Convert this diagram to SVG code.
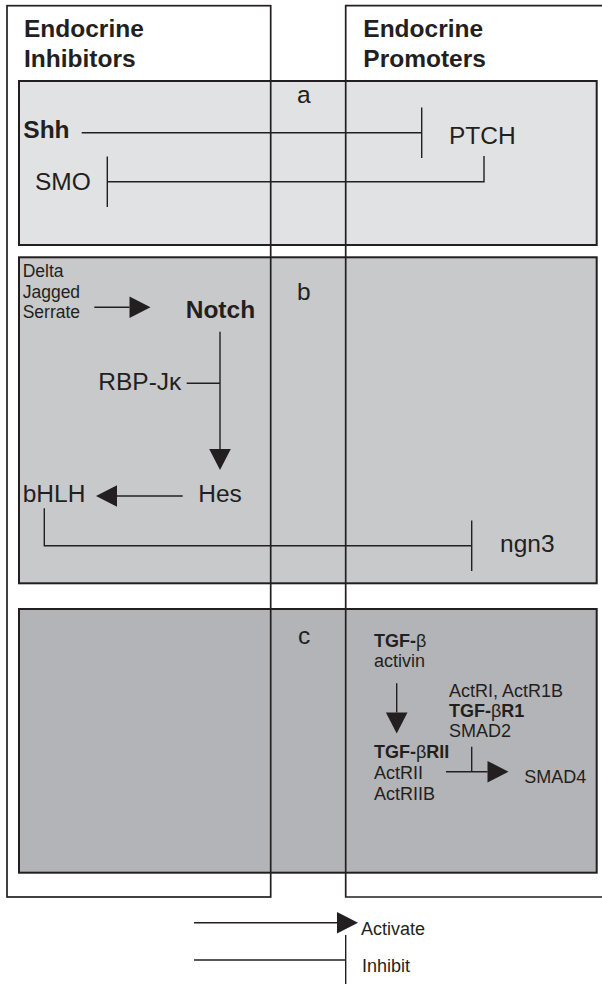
<svg xmlns="http://www.w3.org/2000/svg" width="602" height="984" viewBox="0 0 602 984">
<style>
text{font-family:"Liberation Sans",Arial,Helvetica,sans-serif;fill:#231f20}
.h{font-size:24.5px;font-weight:bold}
.n{font-size:24.5px}
.nb{font-size:24.5px;font-weight:bold}
.s{font-size:17.5px}
.m{font-size:18px}
.b{font-weight:bold}
.panel{stroke:#231f20;stroke-width:2}
.frame{fill:none;stroke:#231f20;stroke-width:1.7}
.c{fill:none;stroke:#231f20;stroke-width:1.4}
.act{marker-end:url(#arrow)}
.inh{marker-end:url(#bar)}
</style>
<defs>
<marker id="arrow" markerUnits="userSpaceOnUse" markerWidth="22" markerHeight="22" refX="0" refY="10.8" orient="auto" overflow="visible">
<path d="M0,0 L21,10.8 L0,21.6 z" fill="#231f20"/>
</marker>
<marker id="bar" markerUnits="userSpaceOnUse" markerWidth="4" markerHeight="52" refX="0" refY="25.3" orient="auto" overflow="visible">
<path d="M0,0 V50.6" stroke="#231f20" stroke-width="1.4" fill="none"/>
</marker>
</defs>

<g id="panel-a"><rect class="panel" x="19" y="81" width="577.7" height="164" fill="#e1e2e4"/></g>
<g id="panel-b"><rect class="panel" x="19" y="257.3" width="577.7" height="326" fill="#c8c9cb"/></g>
<g id="panel-c"><rect class="panel" x="19" y="609" width="577.7" height="263.7" fill="#b3b4b7"/></g>

<g id="col-inhibitors">
<rect class="frame" x="7" y="5.7" width="263.7" height="891.3"/>
<text class="h" x="24" y="36.7">Endocrine</text>
<text class="h" x="24" y="66.7">Inhibitors</text>
</g>
<g id="col-promoters">
<path class="frame" d="M603,5.7 H345.7 V897 H603"/>
<text class="h" x="363.3" y="36.7">Endocrine</text>
<text class="h" x="363.3" y="66.7">Promoters</text>
</g>

<g id="labels">
<text class="n" x="297" y="103.3">a</text>
<text class="n" x="297" y="300">b</text>
<text class="n" x="298" y="643.5">c</text>
</g>

<g id="connectors">
<line class="c inh" x1="81.7" y1="132.7" x2="421.7" y2="132.7"/>
<path class="c inh" d="M484,156 V181.7 H107.3"/>
<line class="c act" x1="94.3" y1="307.3" x2="129.5" y2="307.3"/>
<line class="c act" x1="220" y1="331.7" x2="220" y2="449"/>
<line class="c" x1="186.7" y1="383.3" x2="220" y2="383.3"/>
<line class="c act" x1="182.7" y1="496" x2="117" y2="496"/>
<path class="c inh" d="M44.3,508.3 V545.7 H471.7"/>
<line class="c act" x1="396.7" y1="683.3" x2="396.7" y2="712.5"/>
<line class="c act" x1="446" y1="771.7" x2="487.5" y2="771.7"/>
<line class="c" x1="471.7" y1="746.7" x2="471.7" y2="771.7"/>
</g>

<g id="node-shh"><text class="nb" x="23.3" y="138">Shh</text></g>
<g id="node-ptch"><text class="n" x="449" y="144">PTCH</text></g>
<g id="node-smo"><text class="n" x="35" y="189.5">SMO</text></g>
<g id="node-ligands">
<text class="s" x="22.7" y="276.7">Delta</text>
<text class="s" x="22.7" y="297.5">Jagged</text>
<text class="s" x="22.7" y="318.3">Serrate</text>
</g>
<g id="node-notch"><text class="nb" x="185.7" y="318.3">Notch</text></g>
<g id="node-rbpjk"><text class="n" x="98.3" y="389.5">RBP-Jκ</text></g>
<g id="node-hes"><text class="n" x="198.3" y="501.7">Hes</text></g>
<g id="node-bhlh"><text class="n" x="22.7" y="501.7">bHLH</text></g>
<g id="node-ngn3"><text class="n" x="500" y="552">ngn3</text></g>
<g id="node-tgfb">
<text class="m" x="374" y="646.7"><tspan class="b">TGF-</tspan>β</text>
<text class="m" x="374" y="666.7">activin</text>
</g>
<g id="node-type1">
<text class="m" x="449" y="697.3">ActRI, ActR1B</text>
<text class="m" x="449" y="716.7"><tspan class="b">TGF-</tspan>β<tspan class="b">R1</tspan></text>
<text class="m" x="449" y="736.7">SMAD2</text>
</g>
<g id="node-type2">
<text class="m" x="374" y="758.3"><tspan class="b">TGF-</tspan>β<tspan class="b">RII</tspan></text>
<text class="m" x="374" y="779">ActRII</text>
<text class="m" x="374" y="800">ActRIIB</text>
</g>
<g id="node-smad4"><text class="m" x="524.3" y="783.3">SMAD4</text></g>

<g id="legend">
<line class="c act" x1="194" y1="922.7" x2="337" y2="922.7"/>
<text class="m" x="361" y="935">Activate</text>
<line class="c" x1="194" y1="960" x2="345.7" y2="960"/>
<line class="c" x1="345.7" y1="935" x2="345.7" y2="985"/>
<text class="m" x="362" y="972.3">Inhibit</text>
</g>
</svg>
